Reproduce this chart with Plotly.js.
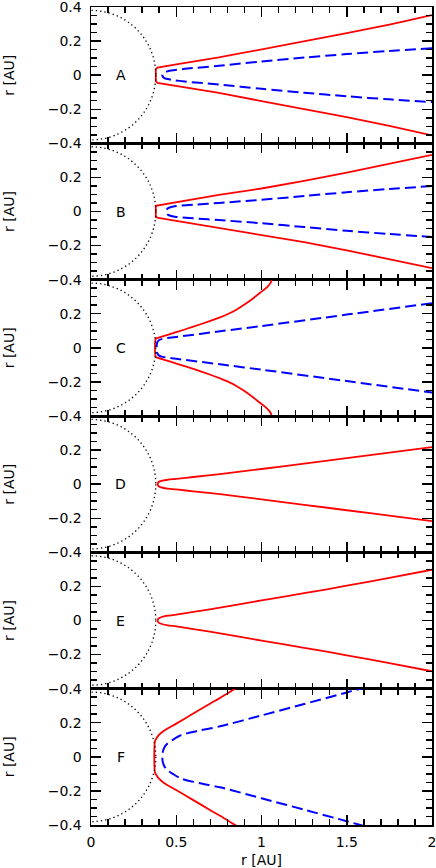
<!DOCTYPE html>
<html>
<head>
<meta charset="utf-8">
<script src="https://cdn.plot.ly/plotly-3.0.1.min.js"></script>
<style>html,body{margin:0;padding:0;background:#fff;}#chart{width:436px;height:868px;}</style>
</head>
<body>
<div id="chart"></div>
<script>
// ---- data ----
const panelLabels = ['A', 'B', 'C', 'D', 'E', 'F'];
const circleRadius = 0.38;   // dotted circle radius [AU]

// Panel A
const redA_x   = [0.38, 0.39, 0.5, 0.75, 1.0, 1.25, 1.5, 1.75, 2.0];
const redA_top = [0.035, 0.045, 0.063, 0.104, 0.152, 0.198, 0.246, 0.297, 0.353];
const redA_bot = [-0.035, -0.045, -0.063, -0.104, -0.152, -0.198, -0.246, -0.297, -0.353];
const blueA_x   = [0.418, 0.422, 0.43, 0.45, 0.47, 0.55, 0.75, 1.0, 1.25, 1.5, 1.75, 2.0];
const blueA_top = [0, 0.01, 0.017, 0.023, 0.027, 0.037, 0.055, 0.08, 0.103, 0.124, 0.142, 0.158];
const blueA_bot = [0, -0.01, -0.017, -0.023, -0.027, -0.037, -0.055, -0.08, -0.103, -0.124, -0.142, -0.158];

// Panel B
const redB_x   = [0.38, 0.395, 0.5, 0.75, 1.0, 1.25, 1.5, 1.75, 2.0];
const redB_top = [0.033, 0.038, 0.055, 0.097, 0.135, 0.18, 0.228, 0.278, 0.332];
const redB_bot = [-0.033, -0.038, -0.055, -0.097, -0.135, -0.18, -0.228, -0.278, -0.332];
const blueB_x   = [0.44, 0.443, 0.45, 0.47, 0.5, 0.6, 0.75, 1.0, 1.25, 1.5, 1.75, 2.0];
const blueB_top = [0, 0.01, 0.018, 0.026, 0.032, 0.04, 0.05, 0.069, 0.091, 0.113, 0.132, 0.149];
const blueB_bot = [0, -0.01, -0.018, -0.026, -0.032, -0.04, -0.05, -0.069, -0.091, -0.113, -0.132, -0.149];

// Panel C
const redC_x   = [0.38, 0.39, 0.5, 0.6, 0.7, 0.757, 0.8, 0.85, 0.9, 0.95, 0.99, 1.02, 1.04, 1.053, 1.06, 1.065];
const redC_top = [0.054, 0.058, 0.092, 0.124, 0.158, 0.179, 0.197, 0.222, 0.254, 0.29, 0.322, 0.345, 0.364, 0.381, 0.4, 0.42];
const redC_bot = [-0.054, -0.058, -0.092, -0.124, -0.158, -0.179, -0.197, -0.222, -0.254, -0.29, -0.322, -0.345, -0.364, -0.381, -0.4, -0.42];
const blueC_x   = [0.385, 0.386, 0.39, 0.40, 0.42, 0.5, 0.757, 1.0, 1.5, 2.0];
const blueC_top = [0, 0.02, 0.035, 0.046, 0.053, 0.064, 0.097, 0.128, 0.195, 0.262];
const blueC_bot = [0, -0.02, -0.035, -0.046, -0.053, -0.064, -0.097, -0.128, -0.195, -0.262];

// Panel D
const redD_x   = [0.391, 0.393, 0.40, 0.42, 0.45, 0.5, 0.6, 0.757, 1.0, 1.25, 1.5, 1.75, 2.0];
const redD_top = [0, 0.008, 0.015, 0.021, 0.026, 0.031, 0.042, 0.059, 0.089, 0.121, 0.153, 0.185, 0.217];
const redD_bot = [0, -0.008, -0.015, -0.021, -0.026, -0.031, -0.042, -0.059, -0.089, -0.121, -0.153, -0.185, -0.217];

// Panel E
const redE_x   = [0.391, 0.393, 0.40, 0.42, 0.45, 0.5, 0.6, 0.757, 1.0, 1.25, 1.5, 1.75, 2.0];
const redE_top = [0, 0.008, 0.015, 0.022, 0.028, 0.035, 0.05, 0.075, 0.118, 0.16, 0.204, 0.25, 0.298];
const redE_bot = [0, -0.008, -0.015, -0.022, -0.028, -0.035, -0.05, -0.075, -0.118, -0.16, -0.204, -0.25, -0.298];

// Panel F
const redF_x   = [0.371, 0.372, 0.375, 0.385, 0.40, 0.424, 0.5, 0.6, 0.7, 0.757, 0.845, 0.87];
const redF_top = [0, 0.05, 0.09, 0.11, 0.13, 0.15, 0.195, 0.254, 0.313, 0.346, 0.4, 0.415];
const redF_bot = [0, -0.05, -0.09, -0.11, -0.13, -0.15, -0.195, -0.254, -0.313, -0.346, -0.4, -0.415];
const blueF_x   = [0.418, 0.42, 0.43, 0.45, 0.48, 0.53, 0.64, 0.757, 1.0, 1.25, 1.5, 1.58, 1.62];
const blueF_top = [0, 0.025, 0.055, 0.08, 0.1, 0.128, 0.155, 0.179, 0.243, 0.31, 0.378, 0.4, 0.41];
const blueF_bot = [0, -0.025, -0.055, -0.08, -0.1, -0.128, -0.155, -0.179, -0.243, -0.31, -0.378, -0.4, -0.41];

const xTickVals = [0, 0.5, 1, 1.5, 2];
const xTickText = ['0', '0.5', '1', '1.5', '2'];
const yTickVals = [-0.4, -0.2, 0, 0.2, 0.4];
const yTickTextTop = ['\u22120.4', '\u22120.2', '0', '0.2', '0.4'];
const yTickTextRest = ['\u22120.4', '\u22120.2', '0', '0.2', ''];

// ---- build ----
const FONT = 'DejaVu Sans, Arial, sans-serif';
const RED = '#ff0000', BLUE = '#0000ff';

// [x, top, bottom, smooth?]
const redSets = [
  [redA_x, redA_top, redA_bot, false], [redB_x, redB_top, redB_bot, false], [redC_x, redC_top, redC_bot, true],
  [redD_x, redD_top, redD_bot, true], [redE_x, redE_top, redE_bot, true], [redF_x, redF_top, redF_bot, true]
];
const blueSets = [
  [blueA_x, blueA_top, blueA_bot], [blueB_x, blueB_top, blueB_bot], [blueC_x, blueC_top, blueC_bot],
  null, null, [blueF_x, blueF_top, blueF_bot]
];

function joinCurve(xs, top, bot) {
  return {x: xs.slice().reverse().concat(xs), y: top.slice().reverse().concat(bot)};
}

const traces = [];
const shapes = [];
const annotations = [];
const layout = {
  width: 436, height: 868,
  margin: {l: 91, r: 4, t: 7, b: 43, pad: 0},
  paper_bgcolor: '#fff', plot_bgcolor: '#fff',
  showlegend: false,
  font: {family: FONT, size: 14, color: '#000'}
};

const TICK = {ticks: 'inside', ticklen: 10, tickwidth: 1.5, tickcolor: '#000'};
const LINE_W = 1.5;
const n = panelLabels.length;
for (let i = 0; i < n; i++) {
  const k = i + 1;
  const sfx = k === 1 ? '' : String(k);
  const xa = 'x' + sfx, ya = 'y' + sfx;
  const xkey = 'xaxis' + sfx, ykey = 'yaxis' + sfx;
  const xo = 'x' + (k + n), yo = 'y' + (k + n);          // overlay axes for the top / right ticks
  const xokey = 'xaxis' + (k + n), yokey = 'yaxis' + (k + n);

  const r = redSets[i];
  const rc = joinCurve(r[0], r[1], r[2]);
  traces.push({x: rc.x, y: rc.y, xaxis: xa, yaxis: ya, mode: 'lines', type: 'scatter',
    line: r[3] ? {color: RED, width: 1.8, shape: 'spline', smoothing: 0.8} : {color: RED, width: 1.8},
    hoverinfo: 'skip', name: 'red ' + panelLabels[i]});
  const b = blueSets[i];
  if (b) {
    const bc = joinCurve(b[0], b[1], b[2]);
    traces.push({x: bc.x, y: bc.y, xaxis: xa, yaxis: ya, mode: 'lines', type: 'scatter',
      line: {color: BLUE, width: 2, dash: '11px,5px', shape: 'spline', smoothing: 0.8},
      hoverinfo: 'skip', name: 'blue ' + panelLabels[i]});
  }

  shapes.push({type: 'circle', xref: xa, yref: ya,
    x0: -circleRadius, x1: circleRadius, y0: -circleRadius, y1: circleRadius,
    line: {color: '#000', width: 1.3, dash: '1.3px,3px'}, layer: 'above'});

  annotations.push({xref: xa, yref: ya, x: 0.175, y: 0, text: panelLabels[i], showarrow: false,
    font: {family: FONT, size: 14, color: '#000'}, xanchor: 'center', yanchor: 'middle'});

  const top = 1 - i / n, bottom = 1 - (i + 1) / n;
  const xMinor = {tickmode: 'linear', tick0: 0, dtick: 0.1, ticks: 'inside', ticklen: 6, tickwidth: 1.5, tickcolor: '#000', showgrid: false};
  const yMinor = {tickmode: 'linear', tick0: 0, dtick: 0.05, ticks: 'inside', ticklen: 6, tickwidth: 1.5, tickcolor: '#000', showgrid: false};

  layout[xkey] = Object.assign({
    domain: [0, 1], range: [0, 2], anchor: ya,
    showticklabels: k === n,
    tickmode: 'array', tickvals: xTickVals, ticktext: xTickText,
    minor: xMinor,
    mirror: true, showline: true, linewidth: LINE_W, linecolor: '#000',
    showgrid: false, zeroline: false,
    tickfont: {family: FONT, size: 14, color: '#000'},
    ticklabeloverflow: 'allow',
    ticklabelstandoff: 4
  }, TICK);
  if (k === n) layout[xkey].title = {text: 'r [AU]', font: {family: FONT, size: 14, color: '#000'}, standoff: 9};

  layout[xokey] = Object.assign({
    overlaying: xa, side: 'top', anchor: ya, range: [0, 2],
    tickmode: 'array', tickvals: xTickVals, showticklabels: false,
    minor: xMinor, showline: false, showgrid: false, zeroline: false
  }, TICK);

  layout[ykey] = Object.assign({
    domain: [bottom, top], range: [-0.4, 0.4], anchor: xa,
    tickmode: 'array', tickvals: yTickVals, ticktext: k === 1 ? yTickTextTop : yTickTextRest,
    minor: yMinor,
    mirror: true, showline: true, linewidth: LINE_W, linecolor: '#000',
    showgrid: false, zeroline: false,
    tickfont: {family: FONT, size: 14, color: '#000'},
    ticklabeloverflow: 'allow',
    ticklabelstandoff: 5,
    title: {text: 'r [AU]', font: {family: FONT, size: 14, color: '#000'}, standoff: 30}
  }, TICK);

  layout[yokey] = Object.assign({
    overlaying: ya, side: 'right', anchor: xa, range: [-0.4, 0.4],
    tickmode: 'array', tickvals: yTickVals, showticklabels: false,
    minor: yMinor, showline: false, showgrid: false, zeroline: false
  }, TICK);

  // empty traces binding the overlay axes so they are laid out and drawn
  traces.push({x: [], y: [], xaxis: xo, yaxis: ya, mode: 'lines', type: 'scatter', hoverinfo: 'skip', showlegend: false});
  traces.push({x: [], y: [], xaxis: xa, yaxis: yo, mode: 'lines', type: 'scatter', hoverinfo: 'skip', showlegend: false});
}
layout.shapes = shapes;
layout.annotations = annotations;

Plotly.newPlot('chart', traces, layout, {staticPlot: true, displayModeBar: false});
</script>
</body>
</html>
